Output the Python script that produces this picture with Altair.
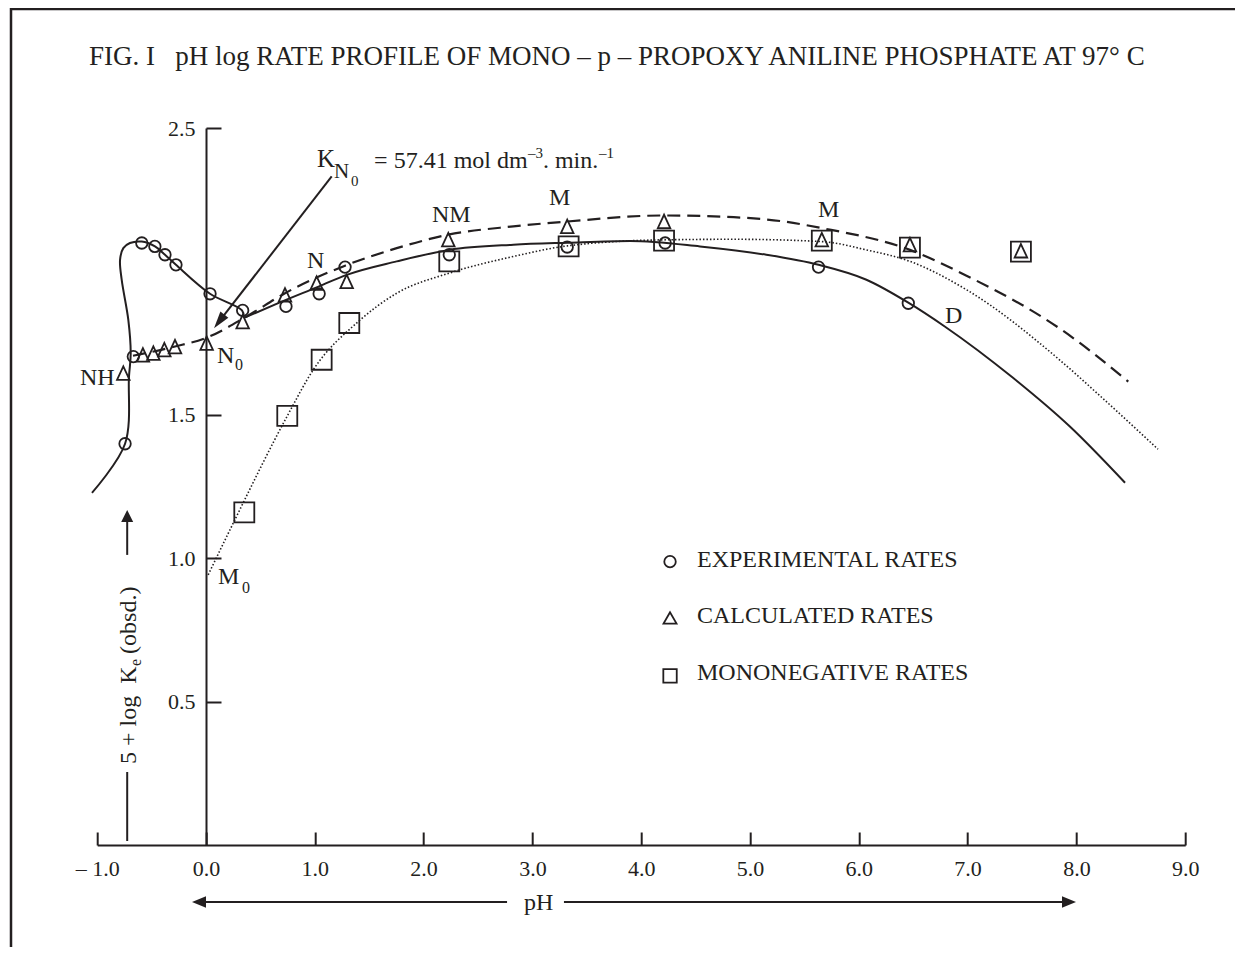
import altair as alt
import pandas as pd

FONT = "Liberation Serif"
INK = "#231f20"

# ---------------- data ----------------
exp_ph = [-0.744, -0.668, -0.59, -0.47, -0.377, -0.276, 0.037, 0.337, 0.735, 1.04, 1.278, 2.236, 3.32, 4.22, 5.63, 6.455]
exp_val = [1.399, 1.703, 2.099, 2.087, 2.058, 2.023, 1.922, 1.864, 1.878, 1.922, 2.015, 2.058, 2.085, 2.099, 2.015, 1.889]

calc_ph = [-0.76, -0.58, -0.484, -0.383, -0.285, 0.006, 0.337, 0.726, 1.017, 1.293, 2.227, 3.32, 4.21, 5.66, 6.47, 7.49]
calc_val = [1.645, 1.709, 1.715, 1.727, 1.738, 1.750, 1.825, 1.918, 1.959, 1.965, 2.111, 2.157, 2.174, 2.111, 2.093, 2.072]

mono_ph = [0.352, 0.747, 1.063, 1.317, 2.236, 3.333, 4.21, 5.66, 6.47, 7.49]
mono_val = [1.160, 1.496, 1.692, 1.820, 2.035, 2.087, 2.107, 2.107, 2.083, 2.069]

# solid curve: acid loop, then the main bell
loop_ph = [-1.048, -0.744, -0.708, -0.692, -0.714, -0.775, -0.790, -0.760, -0.699, -0.591, -0.469, -0.377, -0.276, 0.037, 0.331, 0.349]
loop_val = [1.228, 1.399, 1.633, 1.715, 1.831, 1.971, 2.040, 2.081, 2.099, 2.104, 2.087, 2.058, 2.023, 1.922, 1.864, 1.838]
solid_ph = [0.349, 0.68, 1.04, 1.293, 1.753, 2.236, 2.825, 3.32, 3.9, 4.54, 5.15, 5.63, 6.07, 6.455, 6.79, 7.42, 7.94, 8.447]
solid_val = [1.838, 1.892, 1.948, 1.988, 2.035, 2.075, 2.093, 2.100, 2.106, 2.087, 2.058, 2.023, 1.971, 1.891, 1.808, 1.628, 1.459, 1.263]

dashed_ph = [-0.671, -0.285, 0.006, 0.374, 0.726, 1.278, 1.753, 2.227, 2.825, 3.32, 4.2, 4.85, 5.31, 5.66, 6.47, 6.99, 7.85, 8.477]
dashed_val = [1.706, 1.738, 1.769, 1.843, 1.924, 2.020, 2.081, 2.128, 2.157, 2.174, 2.195, 2.189, 2.174, 2.151, 2.075, 1.985, 1.800, 1.616]

dotted_ph = [0.02, 0.25, 0.747, 0.986, 1.40, 1.753, 2.236, 2.825, 3.32, 4.2, 4.85, 5.66, 6.07, 6.47, 6.99, 7.85, 8.22, 8.75]
dotted_val = [0.942, 1.122, 1.496, 1.657, 1.825, 1.924, 1.994, 2.052, 2.089, 2.110, 2.112, 2.104, 2.075, 2.035, 1.936, 1.690, 1.565, 1.38]

x_ticks = [-1.0, 0.0, 1.0, 2.0, 3.0, 4.0, 5.0, 6.0, 7.0, 8.0, 9.0]
y_ticks = [0.5, 1.0, 1.5, 2.5]

title_text = "FIG. I\u00a0\u00a0 pH log RATE PROFILE OF MONO \u2013 p \u2013 PROPOXY ANILINE PHOSPHATE AT 97\u00b0 C"

# annotation texts (anchored in data units: pH, 5+log k)
ann_text = ["K", "N", "0", "= 57.41 mol dm", "\u20133", ". min.", "\u20131",
            "NH", "N", "0", "N", "NM", "M", "M", "D", "M", "0",
            "EXPERIMENTAL RATES", "CALCULATED RATES", "MONONEGATIVE RATES", "pH", title_text]
ann_x = [1.020, 1.176, 1.333, 1.545, 2.960, 3.097, 3.612,
         -1.158, 0.101, 0.2665, 0.928, 2.077, 3.153, 5.625, 6.792, 0.110, 0.331,
         4.513, 4.513, 4.513, 2.923, -1.0754]
ann_y = [2.365, 2.326, 2.299, 2.361, 2.396, 2.361, 2.396,
         1.604, 1.681, 1.657, 2.013, 2.173, 2.232, 2.190, 1.821, 0.910, 0.879,
         0.9697, 0.7743, 0.5755, -0.2267, 2.7206]
ann_size = [25, 21, 15, 24, 15, 24, 15,
            24, 24, 16, 24, 24, 24, 24, 24, 24, 16,
            24, 24, 24, 24, 27]

# rotated y-axis title pieces
ylab_text = ["5 + log\u00a0\u00a0K", "e", "(obsd.)"]
ylab_x = [-0.643, -0.597, -0.643]
ylab_y = [0.2825, 0.6243, 0.6662]
ylab_size = [24, 16, 24]

# legend symbols
leg_shape = ["circle", "triangle-up", "square"]
leg_x = [4.265, 4.265, 4.265]
leg_y = [0.988, 0.7918, 0.5895]
leg_size = [132, 169, 180]

# arrow shafts and heads
shaft_x = [1.1553, -0.7243, -0.7243, 2.767, 3.290]
shaft_x2 = [0.1213, -0.7243, -0.7243, -0.0643, 7.932]
shaft_y = [2.3310, 0.2546, 1.0115, -0.1988, -0.1988]
shaft_y2 = [1.8256, 0.01395, 1.1475, -0.1988, -0.1988]
head_x = [0.1213, -0.7243, -0.0643, 7.932]
head_y = [1.8256, 1.1475, -0.1988, -0.1988]
head_angle = [127.6, 270, 180, 0]
head_size = [289, 144, 196, 196]
head_shape = ["M1,0L-1,-0.59L-1,0.59Z", "M1,0L-1,-1L-1,1Z", "M1,0L-1,-0.82L-1,0.82Z", "M1,0L-1,-0.82L-1,0.82Z"]

# ---------------- chart ----------------
xs = alt.Scale(domain=[-1, 9], nice=False, zero=False)
ys = alt.Scale(domain=[0, 2.5], nice=False, zero=False)


def XY(xaxis=None, yaxis=None):
    return dict(x=alt.X("x:Q", scale=xs, axis=xaxis), y=alt.Y("y:Q", scale=ys, axis=yaxis))


x_axis_labels = alt.Axis(
    orient="bottom", values=x_ticks, title=None, grid=False, ticks=False, tickSize=0,
    labelExpr="datum.value < 0 ? '\u2013 ' + format(-datum.value, '.1f') : format(datum.value, '.1f')",
    labelFont=FONT, labelFontSize=22, labelColor=INK, labelPadding=13, labelFlush=False,
    labelOverlap=False, domainColor=INK, domainWidth=2,
)
y_axis_labels = alt.Axis(
    orient="left", values=y_ticks, title=None, grid=False, ticks=False, tickSize=0, format=".1f",
    labelFont=FONT, labelFontSize=22, labelColor=INK, labelPadding=11, labelFlush=False,
    labelOverlap=False, domainColor=INK, domainWidth=2, offset=-108.8,
)
x_axis_ticks = alt.Axis(
    orient="bottom", values=x_ticks, title=None, grid=False, labels=False, domain=False,
    tickSize=13, tickWidth=2, tickColor=INK, offset=-13,
)
y_axis_ticks = alt.Axis(
    orient="left", values=y_ticks, title=None, grid=False, labels=False, domain=False,
    tickSize=15, tickWidth=2, tickColor=INK, offset=-123.8,
)


def curve(phs, vals, interp, width, dash=None):
    df = pd.DataFrame({"x": phs, "y": vals, "i": list(range(len(phs)))})
    kw = dict(interpolate=interp, color=INK, strokeWidth=width)
    if dash:
        kw["strokeDash"] = dash
    return alt.Chart(df).mark_line(**kw).encode(**XY(), order="i:Q")


TRI = "M0,-1L0.93,1L-0.93,1Z"

exp_layer = alt.Chart(pd.DataFrame({"x": exp_ph, "y": exp_val})).mark_point(
    shape="circle", filled=False, size=132, strokeWidth=1.8, color=INK, opacity=1
).encode(**XY(x_axis_labels, y_axis_labels))

calc_layer = alt.Chart(pd.DataFrame({"x": calc_ph, "y": calc_val})).mark_point(
    shape=TRI, filled=False, size=182, strokeWidth=1.8, color=INK, opacity=1
).encode(**XY(x_axis_ticks, y_axis_ticks))

mono_layer = alt.Chart(pd.DataFrame({"x": mono_ph, "y": mono_val})).mark_point(
    shape="square", filled=False, size=400, strokeWidth=1.8, color=INK, opacity=1
).encode(**XY())

legend_layer = alt.Chart(pd.DataFrame({"x": leg_x, "y": leg_y, "shp": leg_shape, "s": leg_size})).mark_point(
    filled=False, strokeWidth=1.8, color=INK, opacity=1
).encode(**XY(), shape=alt.Shape("shp:N", scale=None), size=alt.Size("s:Q", scale=None))

text_layer = alt.Chart(pd.DataFrame({"x": ann_x, "y": ann_y, "t": ann_text, "s": ann_size})).mark_text(
    align="left", baseline="alphabetic", font=FONT, color=INK
).encode(**XY(), text="t:N", size=alt.Size("s:Q", scale=None))

ylab_layer = alt.Chart(pd.DataFrame({"x": ylab_x, "y": ylab_y, "t": ylab_text, "s": ylab_size})).mark_text(
    align="left", baseline="alphabetic", font=FONT, color=INK, angle=270
).encode(**XY(), text="t:N", size=alt.Size("s:Q", scale=None))

shaft_layer = alt.Chart(pd.DataFrame({"x": shaft_x, "x2": shaft_x2, "y": shaft_y, "y2": shaft_y2})).mark_rule(
    color=INK, strokeWidth=2
).encode(**XY(), x2="x2:Q", y2="y2:Q")

head_layer = alt.Chart(pd.DataFrame({"x": head_x, "y": head_y, "a": head_angle, "s": head_size, "shp": head_shape})).mark_point(
    filled=True, color=INK, opacity=1, strokeWidth=0
).encode(**XY(), angle=alt.Angle("a:Q", scale=None), size=alt.Size("s:Q", scale=None),
         shape=alt.Shape("shp:N", scale=None))

frame_layer = alt.Chart(pd.DataFrame({"k": [0]})).mark_rect(
    filled=False, color=INK, strokeWidth=2.5
).encode(x=alt.value(-86.2), x2=alt.value(1400), y=alt.value(-119), y2=alt.value(1100))

chart = alt.layer(
    frame_layer,
    curve(loop_ph, loop_val, "catmull-rom", 2),
    curve(solid_ph, solid_val, "monotone", 2),
    curve(dashed_ph, dashed_val, "monotone", 2.2, [13, 7]),
    curve(dotted_ph, dotted_val, "monotone", 1.6, [1.5, 2]),
    shaft_layer,
    head_layer,
    exp_layer,
    calc_layer,
    mono_layer,
    legend_layer,
    text_layer,
    ylab_layer,
).resolve_axis(
    x="independent", y="independent"
).properties(
    width=1088, height=717,
    padding={"left": 89.2, "top": 120, "right": 49.8, "bottom": 102},
    autosize=alt.AutoSizeParams(type="none"),
    background="white",
).configure_view(strokeWidth=0)

chart.save("out.html", embed_options={"renderer": "svg", "actions": False})
